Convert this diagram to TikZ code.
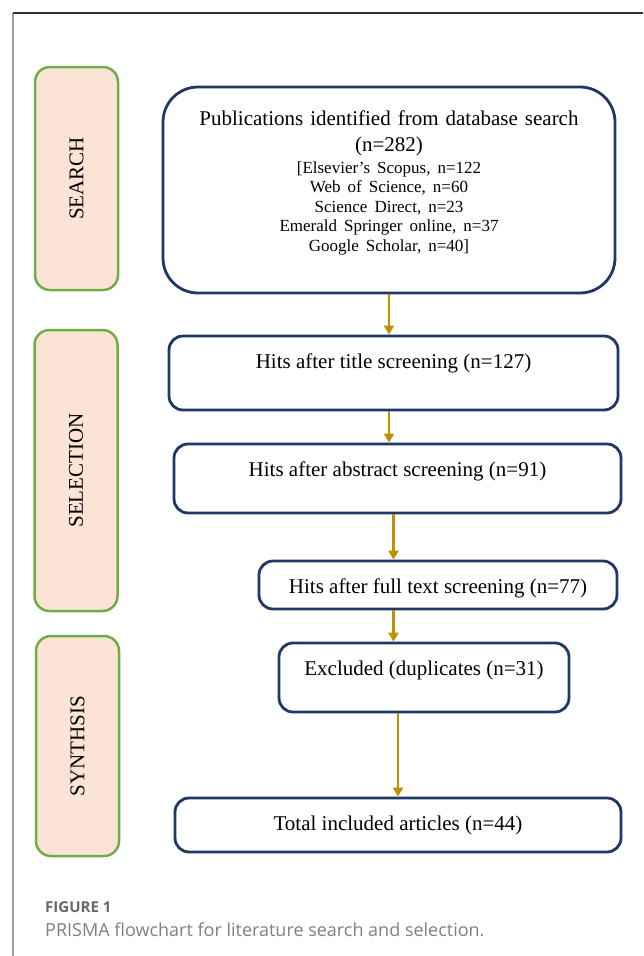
\documentclass[tikz,border=0pt]{standalone}
\usepackage{graphicx}
\usepackage{fontspec}
\setmainfont{Liberation Serif}
\newfontfamily\capfont{Open Sans}
\usetikzlibrary{positioning,arrows.meta}

\definecolor{boxblue}{RGB}{31,56,100}
\definecolor{phasegreen}{RGB}{112,173,71}
\definecolor{phasefill}{RGB}{251,228,214}
\definecolor{arrowgold}{RGB}{191,144,0}
\definecolor{captiongray}{RGB}{105,105,105}

\tikzset{
	phase/.style={draw=phasegreen, fill=phasefill, line width=2.5pt, rounded corners=15pt,
		minimum width=83pt, inner sep=0pt, font=\fontsize{21}{24}\selectfont},
	flowbox/.style={draw=boxblue, line width=2.8pt, rounded corners=14pt, inner sep=0pt,
		text height=32pt, font=\fontsize{21}{24}\selectfont},
	flow/.style={draw=arrowgold, line width=2.7pt, -{Triangle[width=10pt,length=9pt]}},
}

\begin{document}
\begin{tikzpicture}[x=1pt, y=-1pt]
	\useasboundingbox[fill=white] (0,0) rectangle (643,956);
	% page frame
	\draw[line width=2pt, gray!75] (13,13) -- (13,956);
	\draw[line width=2pt, black!80] (13,13) -- (643,13);

	% phases
	\node[phase, minimum height=223pt] (search) at (76.5,178.5) {\rotatebox{90}{SEARCH}};
	\node[phase, minimum height=281pt] (selection) at (76,470.5) {\rotatebox{90}{SELECTION}};
	\node[phase, minimum height=220pt] (synthesis) at (77.5,746) {\rotatebox{90}{SYNTHSIS}};

	% flow boxes
	\node[draw=boxblue, line width=2.8pt, rounded corners=35pt, inner sep=0pt,
		minimum width=452pt, minimum height=206pt, text width=440pt, align=center,
		font=\fontsize{21}{26}\selectfont] (srch) at (389,190)
		{Publications identified from database search\\(n=282)\par\vspace{2.5pt}
		\fontsize{17}{19.5}\selectfont [Elsevier's Scopus, n=122\\Web of Science, n=60\\
		Science Direct, n=23\\Emerald Springer online, n=37\\
		Google Scholar, n=40]\rule[-18pt]{0pt}{0pt}\par};
	\node[flowbox, minimum width=449pt, text depth=42pt] (ttl) at (393.5,373)
		{Hits after title screening (n=127)};
	\node[flowbox, minimum width=447pt, text depth=37pt] (abst) at (397.5,478.5)
		{Hits after abstract screening (n=91)};
	\node[flowbox, minimum width=358pt, text depth=16pt] (full) at (438,585)
		{Hits after full text screening (n=77)};
	\node[flowbox, minimum width=290pt, text depth=37pt] (excl) at (424,677.5)
		{Excluded (duplicates (n=31)};
	\node[flowbox, minimum width=446pt, text depth=22pt] (tot) at (398,825)
		{Total included articles (n=44)};

	% arrows
	\draw[flow] (srch.south) -- (srch.south |- ttl.north);
	\draw[flow] (ttl.south -| srch.south) -- (srch.south |- abst.north);
	\draw[flow] (abst.south -| ttl.south) -- (ttl.south |- full.north);
	\draw[flow] (full.south -| ttl.south) -- (ttl.south |- excl.north);
	\draw[flow] (tot.north |- excl.south) -- (tot.north);

	% caption
	\node[anchor=base west, inner sep=0pt, text=captiongray, font=\capfont\bfseries\fontsize{15}{18}\selectfont]
		(fig) at (45,912) {FIGURE 1};
	\node[anchor=base west, inner sep=0pt, text=captiongray!85, font=\capfont\fontsize{18}{21}\selectfont]
		(cap) at (45,936) {PRISMA flowchart for literature search and selection.};
\end{tikzpicture}
\end{document}
